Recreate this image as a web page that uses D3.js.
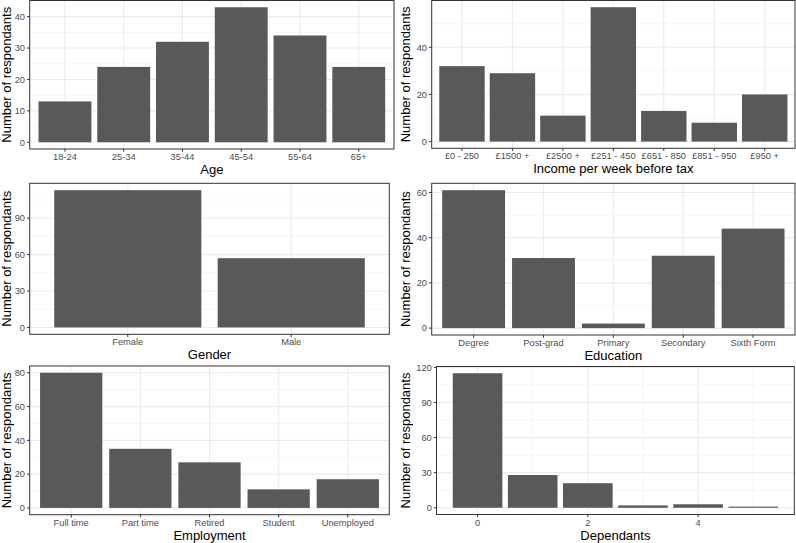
<!DOCTYPE html>
<html>
<head>
<meta charset="utf-8">
<script src="https://cdn.jsdelivr.net/npm/d3@7"></script>
<style>
  html, body { margin: 0; padding: 0; background: #ffffff; }
  svg { display: block; }
</style>
</head>
<body>
<svg id="chart" width="796" height="543"></svg>
<script>
// ---------- data ----------
const ageCategories = ["18-24", "25-34", "35-44", "45-54", "55-64", "65+"];
const ageCounts = [13, 24, 32, 43, 34, 24];
const ageTicks = [0, 10, 20, 30, 40];

const incomeCategories = ["£0 - 250", "£1500 +", "£2500 +", "£251 - 450", "£651 - 850", "£851 - 950", "£950 +"];
const incomeCounts = [32, 29, 11, 57, 13, 8, 20];
const incomeTicks = [0, 20, 40];

const genderCategories = ["Female", "Male"];
const genderCounts = [113, 57];
const genderTicks = [0, 30, 60, 90];

const educationCategories = ["Degree", "Post-grad", "Primary", "Secondary", "Sixth Form"];
const educationCounts = [61, 31, 2, 32, 44];
const educationTicks = [0, 20, 40, 60];

const employmentCategories = ["Full time", "Part time", "Retired", "Student", "Unemployed"];
const employmentCounts = [80, 35, 27, 11, 17];
const employmentTicks = [0, 20, 40, 60, 80];

const dependantsValues = [0, 1, 2, 3, 4, 5];
const dependantsCounts = [115, 28, 21, 2, 3, 1];
const dependantsTicks = [0, 30, 60, 90, 120];
const dependantsXTicks = [0, 2, 4];

const yTitle = "Number of respondants";

// ---------- layout ----------
const panels = [
  { cats: ageCategories, vals: ageCounts, yt: ageTicks, title: "Age", box: { l: 29.7, r: 394, t: 0.5, b: 149 }, ytx: 10.5 },
  { cats: incomeCategories, vals: incomeCounts, yt: incomeTicks, title: "Income per week before tax", box: { l: 431.7, r: 795, t: 0.5, b: 148.3 }, ytx: 410 },
  { cats: genderCategories, vals: genderCounts, yt: genderTicks, title: "Gender", box: { l: 29.7, r: 389.3, t: 183.3, b: 334.3 }, ytx: 10.5 },
  { cats: educationCategories, vals: educationCounts, yt: educationTicks, title: "Education", box: { l: 431.7, r: 795, t: 183.3, b: 335 }, ytx: 410 },
  { cats: employmentCategories, vals: employmentCounts, yt: employmentTicks, title: "Employment", box: { l: 29.7, r: 389.3, t: 366, b: 514.7 }, ytx: 10.5 },
  { cats: dependantsValues, vals: dependantsCounts, yt: dependantsTicks, title: "Dependants", box: { l: 436.5, r: 794.3, t: 366.5, b: 514.5 }, ytx: 410, continuous: true, xt: dependantsXTicks }
];

const FONT = "'Liberation Sans', Arial, sans-serif";
const BAR = "#595959";
const GRID_MAJOR = "#ebebeb";
const GRID_MINOR = "#f4f4f4";
const BORDER = "#333333";
const TICKTXT = "#4d4d4d";
const TICKLEN = 2.7;

const svg = d3.select("#chart");

function minorBreaks(major, lo, hi) {
  const step = major[1] - major[0];
  const out = [];
  for (let i = -1; i < major.length; i++) {
    const m = major[0] + (i + 0.5) * step;
    if (m >= lo && m <= hi) out.push(m);
  }
  return out;
}

panels.forEach(p => {
  const { l, r, t, b } = p.box;
  const g = svg.append("g");
  const maxV = d3.max(p.vals);
  const y = d3.scaleLinear().domain([-0.05 * maxV, 1.05 * maxV]).range([b, t]);

  let xPos, barX, barW, xMajor, xMinor = [], xLabels;
  if (p.continuous) {
    const lo = d3.min(p.cats) - 0.45, hi = d3.max(p.cats) + 0.45;
    const pad = (hi - lo) * 0.05;
    const x = d3.scaleLinear().domain([lo - pad, hi + pad]).range([l, r]);
    barX = (d) => x(d - 0.45);
    barW = x(0.9) - x(0);
    xMajor = p.xt.map(v => ({ pos: x(v), label: String(v) }));
    xMinor = minorBreaks(p.xt, lo - pad, hi + pad).map(v => x(v));
  } else {
    const x = d3.scaleBand().domain(p.cats).range([l, r]).paddingInner(0.1).paddingOuter(0.15);
    barX = (d) => x(d);
    barW = x.bandwidth();
    xMajor = p.cats.map(c => ({ pos: x(c) + x.bandwidth() / 2, label: c }));
  }

  const yMinor = minorBreaks(p.yt, y.domain()[0], y.domain()[1]);

  // grid minor
  g.selectAll(".ymin").data(yMinor).join("line")
    .attr("x1", l).attr("x2", r).attr("y1", d => y(d)).attr("y2", d => y(d))
    .attr("stroke", GRID_MINOR).attr("stroke-width", 0.8);
  g.selectAll(".xmin").data(xMinor).join("line")
    .attr("x1", d => d).attr("x2", d => d).attr("y1", t).attr("y2", b)
    .attr("stroke", GRID_MINOR).attr("stroke-width", 0.8);
  // grid major
  g.selectAll(".ymaj").data(p.yt).join("line")
    .attr("x1", l).attr("x2", r).attr("y1", d => y(d)).attr("y2", d => y(d))
    .attr("stroke", GRID_MAJOR).attr("stroke-width", 1.1);
  g.selectAll(".xmaj").data(xMajor).join("line")
    .attr("x1", d => d.pos).attr("x2", d => d.pos).attr("y1", t).attr("y2", b)
    .attr("stroke", GRID_MAJOR).attr("stroke-width", 1.1);

  // bars
  g.selectAll(".bar").data(p.cats.map((c, i) => ({ c, v: p.vals[i] }))).join("rect")
    .attr("x", d => barX(d.c))
    .attr("width", barW)
    .attr("y", d => y(d.v))
    .attr("height", d => y(0) - y(d.v))
    .attr("fill", BAR);

  // border
  g.append("rect").attr("x", l).attr("y", t).attr("width", r - l).attr("height", b - t)
    .attr("fill", "none").attr("stroke", BORDER).attr("stroke-width", 1);

  // y ticks
  g.selectAll(".ytk").data(p.yt).join("line")
    .attr("x1", l - TICKLEN).attr("x2", l).attr("y1", d => y(d)).attr("y2", d => y(d))
    .attr("stroke", BORDER).attr("stroke-width", 1);
  g.selectAll(".ylab").data(p.yt).join("text")
    .attr("x", l - TICKLEN - 2).attr("y", d => y(d)).attr("dy", "0.35em")
    .attr("text-anchor", "end").attr("font-family", FONT).attr("font-size", 9.3)
    .attr("fill", TICKTXT).text(d => d);

  // x ticks
  g.selectAll(".xtk").data(xMajor).join("line")
    .attr("x1", d => d.pos).attr("x2", d => d.pos).attr("y1", b).attr("y2", b + TICKLEN)
    .attr("stroke", BORDER).attr("stroke-width", 1);
  g.selectAll(".xlab").data(xMajor).join("text")
    .attr("x", d => d.pos).attr("y", b + 11)
    .attr("text-anchor", "middle").attr("font-family", FONT).attr("font-size", 9.3)
    .attr("fill", TICKTXT).text(d => d.label);

  // titles
  g.append("text").attr("x", (l + r) / 2).attr("y", b + 25)
    .attr("text-anchor", "middle").attr("font-family", FONT).attr("font-size", 13)
    .attr("fill", "#000").text(p.title);
  g.append("text")
    .attr("transform", `translate(${p.ytx},${(t + b) / 2}) rotate(-90)`)
    .attr("text-anchor", "middle").attr("font-family", FONT).attr("font-size", 13)
    .attr("fill", "#000").text(yTitle);
});
</script>
</body>
</html>
